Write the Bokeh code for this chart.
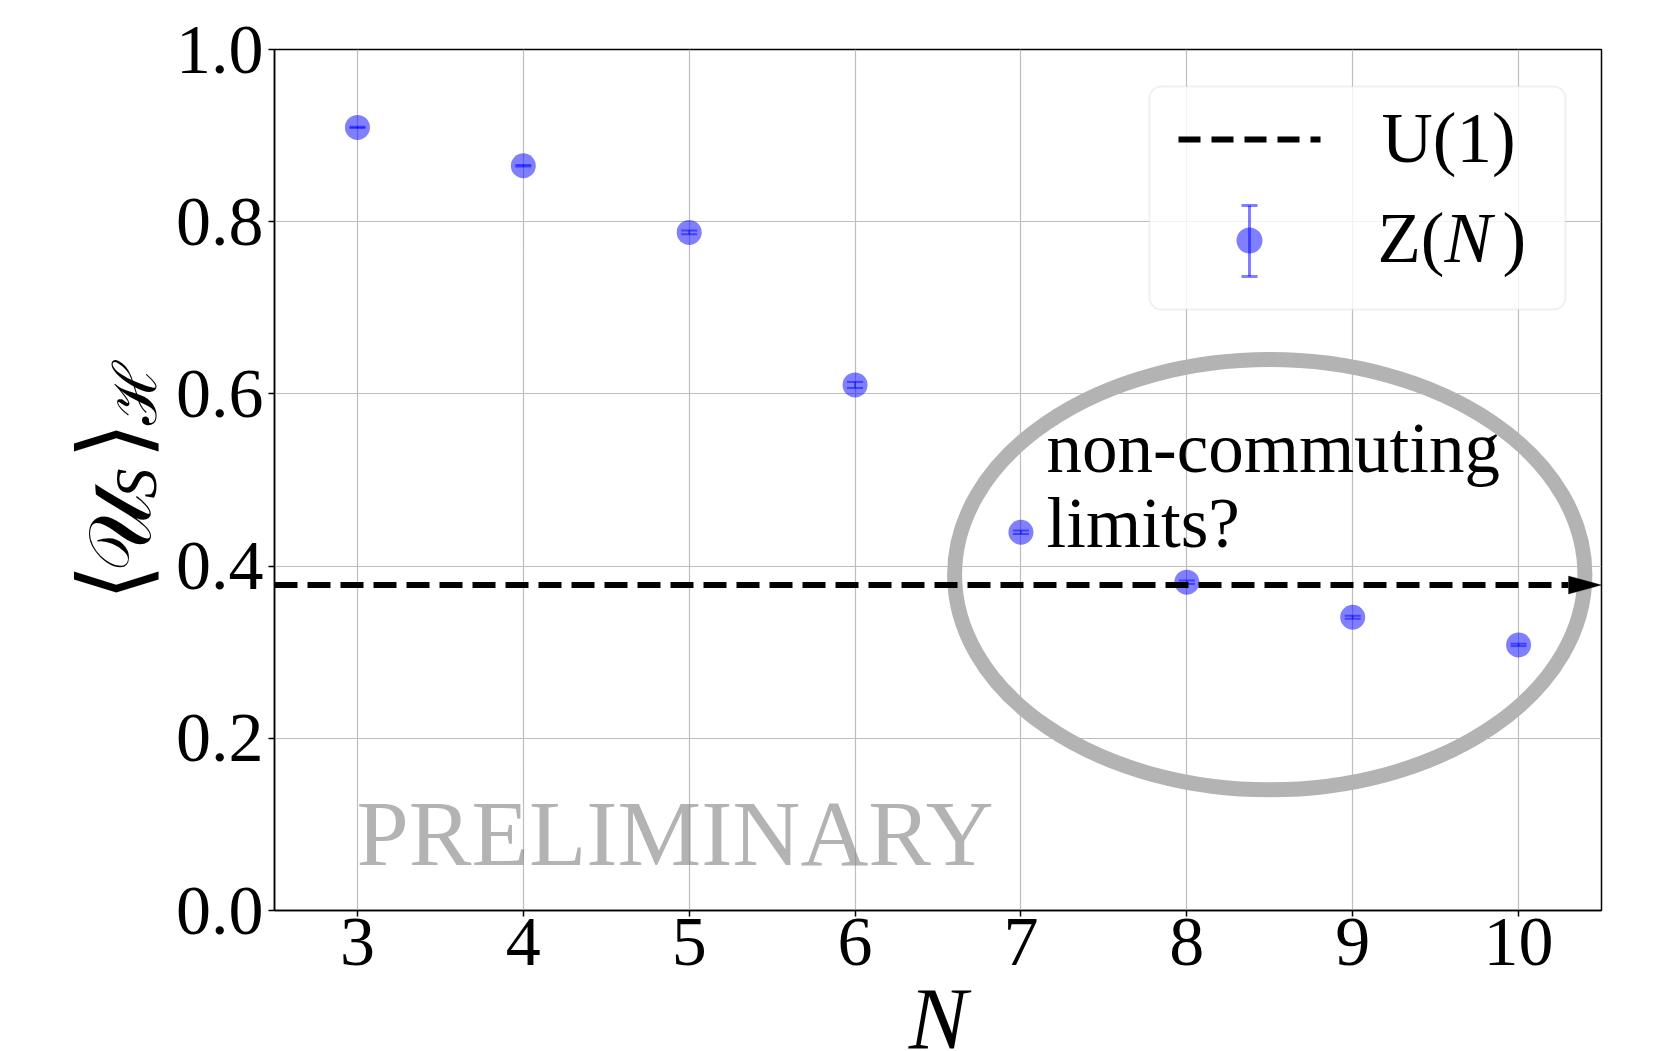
import math
from bokeh.plotting import figure
from bokeh.layouts import row, column
from bokeh.models import (ColumnDataSource, Whisker, TeeHead, Arrow, Label, Range1d,
                          BoxAnnotation, PolyAnnotation, FixedTicker, PrintfTickFormatter)
from bokeh.embed import file_html
from bokeh.resources import INLINE

# ---------------- data ----------------
n_values = [3, 4, 5, 6, 7, 8, 9, 10]
zn_mean = [0.9095, 0.865, 0.7876, 0.6104, 0.4393, 0.3813, 0.3406, 0.3085]
zn_err = [0.0008, 0.0008, 0.0023, 0.0035, 0.0020, 0.0020, 0.0017, 0.0014]
u1_value = 0.378
x_ticks = [3, 4, 5, 6, 7, 8, 9, 10]
y_ticks = [0.0, 0.2, 0.4, 0.6, 0.8, 1.0]
x_limits = (2.5, 10.5)
y_limits = (0.0, 1.0)
highlight_x = [8.5]
highlight_y = [0.39]
highlight_w = [3.8]
highlight_h = [0.5]
note_lines = ["non-commuting", "limits?"]
watermark = "PRELIMINARY"
legend_labels = ["U(1)", "Z(", "N", ")"]
x_label = "N"
y_label_parts = ["⟨", "𝒰", "S", "⟩", "ℋ"]

# ---------------- layout (pixels of the whole 1663x1051 page) ----------------
W, H = 1663, 1051
FL, FR, FT, FB = 274, 1601, 49, 910      # plot frame
LW = 172                                  # strip holding the y label
HM = 990                                  # height of the main row
SERIF = "Liberation Serif"
DESC = 0.18                               # label "bottom" -> baseline shift (em)


def dx(px):
    return x_limits[0] + (px - FL) / (FR - FL) * (x_limits[1] - x_limits[0])


def dy(py):
    return y_limits[0] + (FB - py) / (FB - FT) * (y_limits[1] - y_limits[0])


def ppx_x(n):
    return n / (FR - FL) * (x_limits[1] - x_limits[0])


def ppx_y(n):
    return n / (FB - FT) * (y_limits[1] - y_limits[0])


def text_at(fig, px, base_py, txt, fs, style="normal", color="black", alpha=1.0, **kw):
    """Label whose alphabetic baseline sits at page pixel base_py."""
    fig.add_layout(Label(x=dx(px), y=dy(base_py + DESC * fs), text=txt, text_font=SERIF,
                         text_font_style=style, text_font_size=f"{fs}px",
                         text_color=color, text_alpha=alpha, **kw))


# ---------------- main plot ----------------
p = figure(width=W - LW, height=HM, x_range=x_limits, y_range=y_limits,
           output_backend="svg", toolbar_location=None,
           min_border_left=FL - LW, min_border_right=W - FR,
           min_border_top=FT, min_border_bottom=HM - FB)
p.background_fill_color = "white"
p.border_fill_color = "white"
p.outline_line_color = "black"
p.outline_line_width = 1.5

p.xaxis.ticker = FixedTicker(ticks=x_ticks)
p.yaxis.ticker = FixedTicker(ticks=y_ticks)
p.yaxis.formatter = PrintfTickFormatter(format="%.1f")
for ax in (p.xaxis, p.yaxis):
    ax.major_label_text_font = SERIF
    ax.major_label_text_font_size = "70px"
    ax.major_label_text_color = "black"
    ax.axis_line_color = "black"
    ax.axis_line_width = 1.5
    ax.major_tick_line_color = "black"
    ax.major_tick_line_width = 1.5
    ax.major_tick_out = 6
    ax.major_tick_in = 0
    ax.minor_tick_line_color = None
p.xaxis.major_label_standoff = 2
p.yaxis.major_label_standoff = 5

p.xgrid.ticker = FixedTicker(ticks=x_ticks)
p.ygrid.ticker = FixedTicker(ticks=y_ticks)
for g in (p.xgrid, p.ygrid):
    g.grid_line_color = "#bdbdbd"
    g.grid_line_width = 1.2

# highlight ellipse
p.ellipse(x=highlight_x, y=highlight_y, width=highlight_w, height=highlight_h,
          fill_color=None, line_color="#b3b3b3", line_width=15)

# data points with error bars
src = ColumnDataSource(dict(
    n=n_values, mean=zn_mean,
    lower=[m - e for m, e in zip(zn_mean, zn_err)],
    upper=[m + e for m, e in zip(zn_mean, zn_err)],
))
p.scatter(x="n", y="mean", source=src, size=25, fill_color="blue",
          fill_alpha=0.5, line_color=None)
p.add_layout(Whisker(source=src, base="n", lower="lower", upper="upper",
                     dimension="height", line_color="blue", line_alpha=0.5, line_width=2,
                     upper_head=TeeHead(size=16, line_color="blue", line_alpha=0.5, line_width=2),
                     lower_head=TeeHead(size=16, line_color="blue", line_alpha=0.5, line_width=2)))

# U(1) dashed arrow: dashed shaft + narrow head
head_len, head_half = 33, 9
p.add_layout(Arrow(end=None, x_start=x_limits[0], y_start=u1_value,
                   x_end=x_limits[1] - ppx_x(head_len), y_end=u1_value,
                   line_color="black", line_width=6, line_dash="23 10"))
p.add_layout(PolyAnnotation(
    xs=[x_limits[1], x_limits[1] - ppx_x(head_len), x_limits[1] - ppx_x(head_len)],
    ys=[u1_value, u1_value + ppx_y(head_half), u1_value - ppx_y(head_half)],
    fill_color="black", fill_alpha=1, line_color="black", line_width=1))

# annotation text and watermark
text_at(p, 1046, 474, note_lines[0], 71)
text_at(p, 1046, 549, note_lines[1], 71)
text_at(p, 356, 868, watermark, 94, color="gray", alpha=0.6)

# ---------------- legend (drawn by hand) ----------------
p.add_layout(BoxAnnotation(left=dx(1149), right=dx(1565), top=dy(86), bottom=dy(309),
                           fill_color="white", fill_alpha=0.8, line_color="#cccccc",
                           line_width=2, border_radius=12, level="underlay"))
p.add_layout(Arrow(end=None, x_start=dx(1178), y_start=dy(139), x_end=dx(1320), y_end=dy(139),
                   line_color="black", line_width=6, line_dash="22 11"))
leg_src = ColumnDataSource(dict(x=[dx(1249)], y=[dy(240)], lo=[dy(276)], hi=[dy(205)]))
p.scatter(x="x", y="y", source=leg_src, size=26, fill_color="blue", fill_alpha=0.5,
          line_color=None)
p.add_layout(Whisker(source=leg_src, base="x", lower="lo", upper="hi", dimension="height",
                     line_color="blue", line_alpha=0.5, line_width=3,
                     upper_head=TeeHead(size=16, line_color="blue", line_alpha=0.5, line_width=3),
                     lower_head=TeeHead(size=16, line_color="blue", line_alpha=0.5, line_width=3)))
leg_pos = [(1381, 164, "normal"), (1377, 264, "normal"), (1444, 264, "italic"), (1502, 264, "normal")]
for txt, (lx, ly, st) in zip(legend_labels, leg_pos):
    text_at(p, lx, ly, txt, 71, style=st)

# ---------------- y-label strip (its frame lines up with the plot frame; data = page px) ----
ylab = figure(width=LW, height=HM, x_range=Range1d(0, LW), y_range=Range1d(FB, FT),
              output_backend="svg", toolbar_location=None, x_axis_type=None, y_axis_type=None,
              min_border=0, min_border_left=0, min_border_right=0,
              min_border_top=FT, min_border_bottom=HM - FB)
ylab.outline_line_color = None
ylab.background_fill_color = "white"
ylab.border_fill_color = "white"
ylab_style = [  # (centre x, centre y, size, style, font)
    (112, 582, 95, "normal", "DejaVu Serif"),
    (119, 532, 88, "normal", "DejaVu Serif"),
    (135, 483, 60, "italic", SERIF),
    (112, 440, 95, "normal", "DejaVu Serif"),
    (134, 393, 60, "normal", "DejaVu Serif"),
]
for txt, (cx, cy, fs, st, font) in zip(y_label_parts, ylab_style):
    ylab.add_layout(Label(x=cx, y=cy, text=txt, angle=math.pi / 2,
                          text_align="center", text_baseline="middle", text_font=font,
                          text_font_style=st, text_font_size=f"{fs}px", text_color="black"))

# ---------------- x-label strip (data = page px) ----------------
XH = H - HM
xlab = figure(width=W, height=XH, x_range=Range1d(0, W), y_range=Range1d(H, HM),
              output_backend="svg", toolbar_location=None, x_axis_type=None, y_axis_type=None,
              min_border=0, min_border_left=0, min_border_right=0,
              min_border_top=0, min_border_bottom=0)
xlab.outline_line_color = None
xlab.background_fill_color = "white"
xlab.border_fill_color = "white"
xlab.add_layout(Label(x=(FL + FR) / 2, y=1051 + DESC * 88, text=x_label, text_font=SERIF,
                      text_font_style="italic", text_font_size="88px", text_align="center",
                      text_color="black"))

layout = column(row(ylab, p), xlab)
open("out.html", "w").write(file_html(layout, INLINE))
